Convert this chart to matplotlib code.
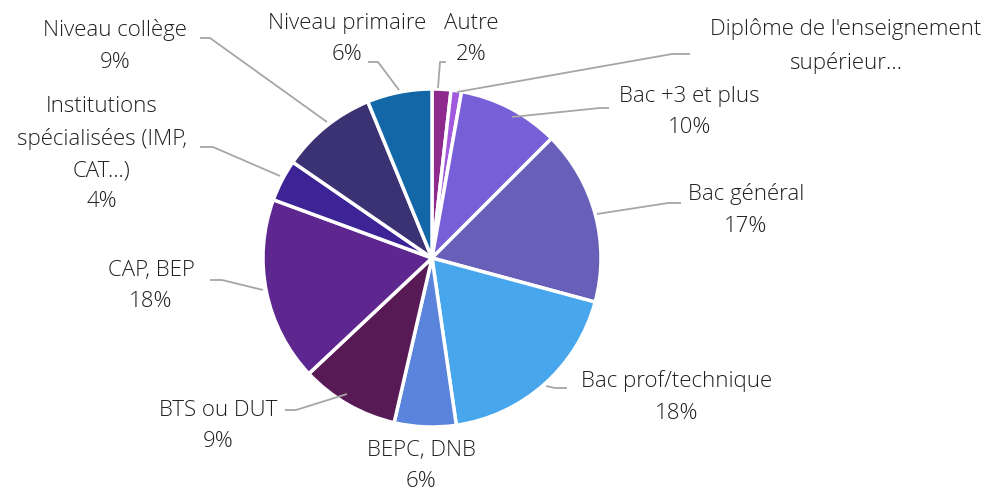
import matplotlib
matplotlib.use("Agg")
import matplotlib.pyplot as plt

# ---- data ----
categories = ["Autre", "Diplôme de l'enseignement\nsupérieur…", "Bac +3 et plus", "Bac général",
              "Bac prof/technique", "BEPC, DNB", "BTS ou DUT", "CAP, BEP",
              "Institutions\nspécialisées (IMP,\nCAT...)", "Niveau collège", "Niveau primaire"]
values = [1.8, 1.0, 9.7, 16.7, 18.5, 5.9, 9.4, 17.6, 4.0, 9.2, 6.2]
show_pct = [True, False, True, True, True, True, True, True, True, True, True]
colors = ["#8E2A8E", "#A05ADB", "#775FD8", "#6860B8", "#47A6EC", "#5A84DB",
          "#581A55", "#5E2790", "#3C2396", "#3A3272", "#1367A7"]

# ---- layout (image pixel coords, y downward) ----
W, H = 996, 494
label_pos = [(471, 39), (846, 46), (689, 112), (746, 210), (677, 397), (421, 466),
             (218, 426), (151, 286), (102, 154), (115, 46), (347, 39)]
leaders = [
    [(446, 62), (440, 62), (438, 88)],
    [(690, 54), (672, 54), (457, 92)],
    [(609, 108), (600, 108), (512, 117)],
    [(681, 203), (668, 203), (597, 214)],
    [(567, 388), (555, 388), (546, 386)],
    None,
    [(285, 410), (296, 410), (347, 394)],
    [(210, 280), (222, 280), (263, 290)],
    [(200, 147), (213, 147), (280, 176)],
    [(200, 38), (210, 38), (327, 122)],
    [(368, 62), (378, 62), (399, 90)],
]

fam = "Open Sans"
fig = plt.figure(figsize=(W / 100, H / 100), dpi=100)
ax = fig.add_axes([0, 0, 1, 1])

def fy(y):
    return H - y

ax.pie(values, colors=colors, startangle=90, counterclock=False,
       center=(432, fy(258)), radius=169,
       wedgeprops=dict(edgecolor="white", linewidth=2.5))

total = sum(values)
for cat, v, sp, (x, y) in zip(categories, values, show_pct, label_pos):
    txt = cat + (f"\n{round(v / total * 100)}%" if sp else "")
    ax.text(x, fy(y), txt, ha="center", va="center", fontsize=16,
            family=fam, weight="light", color="#202020", linespacing=1.65)

for pts in leaders:
    if pts is None:
        continue
    xs = [p[0] for p in pts]
    ys = [fy(p[1]) for p in pts]
    ax.plot(xs, ys, color="#A6A6A6", lw=1.3, solid_capstyle="butt")

ax.set_xlim(0, W)
ax.set_ylim(0, H)
ax.set_aspect("equal")
ax.axis("off")
fig.savefig("out.png", dpi=100)
